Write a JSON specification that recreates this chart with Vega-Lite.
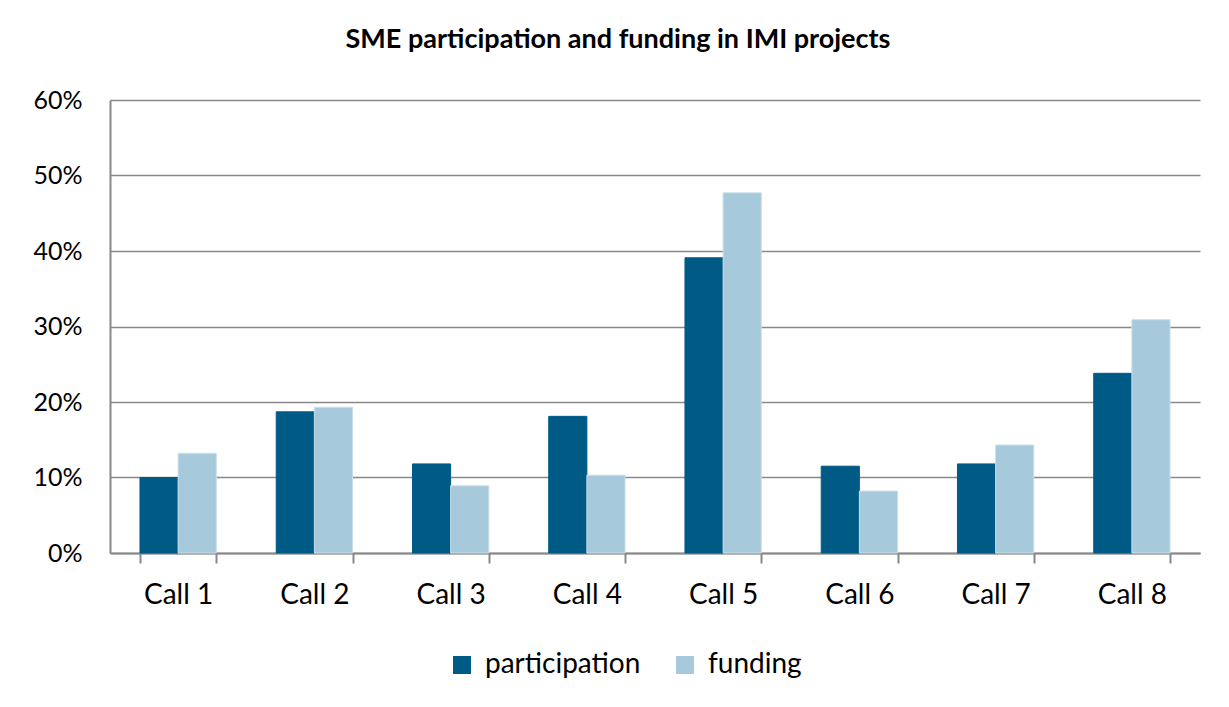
{
  "$schema": "https://vega.github.io/schema/vega-lite/v6.json",
  "width": 1090,
  "height": 453,
  "autosize": "none",
  "padding": {"left": 110, "top": 100, "right": 29, "bottom": 154},
  "background": "white",
  "title": {
    "text": "SME participation and funding in IMI projects",
    "font": "Lato",
    "fontSize": 27,
    "fontWeight": "bold",
    "color": "#000000",
    "anchor": "middle",
    "dx": -37,
    "offset": 34
  },
  "data": {
    "values": [
      {"call": "Call 1", "series": "participation", "value": 0.100},
      {"call": "Call 1", "series": "funding", "value": 0.132},
      {"call": "Call 2", "series": "participation", "value": 0.187},
      {"call": "Call 2", "series": "funding", "value": 0.193},
      {"call": "Call 3", "series": "participation", "value": 0.118},
      {"call": "Call 3", "series": "funding", "value": 0.089},
      {"call": "Call 4", "series": "participation", "value": 0.181},
      {"call": "Call 4", "series": "funding", "value": 0.103},
      {"call": "Call 5", "series": "participation", "value": 0.391},
      {"call": "Call 5", "series": "funding", "value": 0.477},
      {"call": "Call 6", "series": "participation", "value": 0.115},
      {"call": "Call 6", "series": "funding", "value": 0.082},
      {"call": "Call 7", "series": "participation", "value": 0.118},
      {"call": "Call 7", "series": "funding", "value": 0.143},
      {"call": "Call 8", "series": "participation", "value": 0.238},
      {"call": "Call 8", "series": "funding", "value": 0.309}
    ]
  },
  "mark": {"type": "bar"},
  "encoding": {
    "x": {
      "field": "call",
      "type": "nominal",
      "title": null,
      "scale": {"paddingInner": 0.44, "paddingOuter": 0.22},
      "axis": {
        "labelAngle": 0,
        "labelFont": "Lato",
        "labelFontSize": 28,
        "labelColor": "#000000",
        "labelPadding": 18,
        "tickBand": "extent",
        "tickSize": 10,
        "tickColor": "#888888",
        "tickWidth": 2,
        "domainColor": "#888888",
        "domainWidth": 2,
        "grid": false
      }
    },
    "xOffset": {
      "field": "series",
      "type": "nominal",
      "scale": {"domain": ["participation", "funding"], "paddingInner": 0, "paddingOuter": 0}
    },
    "y": {
      "field": "value",
      "type": "quantitative",
      "title": null,
      "scale": {"domain": [0, 0.6], "nice": false},
      "axis": {
        "format": ".0%",
        "values": [0, 0.1, 0.2, 0.3, 0.4, 0.5, 0.6],
        "labelFont": "Lato",
        "labelFontSize": 25,
        "labelColor": "#000000",
        "labelPadding": 28,
        "ticks": false,
        "domainColor": "#888888",
        "domainWidth": 2,
        "grid": true,
        "gridColor": "#888888",
        "gridWidth": 1.5
      }
    },
    "color": {
      "field": "series",
      "type": "nominal",
      "scale": {"domain": ["participation", "funding"], "range": ["#005a86", "#a6c9db"]},
      "legend": {
        "title": null,
        "orient": "none",
        "direction": "horizontal",
        "legendX": 338,
        "legendY": 551,
        "symbolType": "square",
        "symbolSize": 324,
        "symbolStrokeWidth": 0,
        "labelFont": "Lato",
        "labelFontSize": 28,
        "labelColor": "#000000",
        "labelOffset": 9,
        "columnPadding": 30
      }
    },
    "stroke": {
      "field": "series",
      "type": "nominal",
      "scale": {"domain": ["participation", "funding"], "range": ["#005a86", "#c9dee9"]},
      "legend": null
    }
  },
  "config": {"view": {"stroke": null}}
}
